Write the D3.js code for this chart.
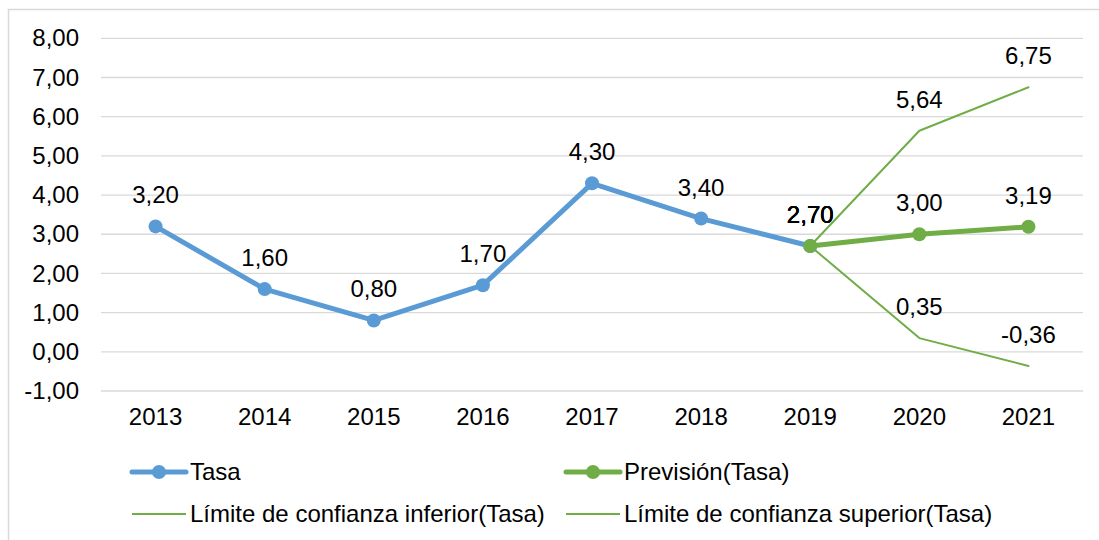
<!DOCTYPE html>
<html>
<head>
<meta charset="utf-8">
<script src="https://cdn.jsdelivr.net/npm/d3@7"></script>
<style>
    body{ margin:0; background:#fff; }
    svg text{ font-family:'Liberation Sans', Arial, sans-serif; fill:#000; }
</style>
</head>
<body>
<div id="chart"></div>
<script>
var years = ['2013','2014','2015','2016','2017','2018','2019','2020','2021'];
var tasa = [3.20, 1.60, 0.80, 1.70, 4.30, 3.40, 2.70, null, null];
var prevision = [null, null, null, null, null, null, 2.70, 3.00, 3.19];
var limInferior = [null, null, null, null, null, null, 2.70, 0.35, -0.36];
var limSuperior = [null, null, null, null, null, null, 2.70, 5.64, 6.75];
var yTicks = [-1, 0, 1, 2, 3, 4, 5, 6, 7, 8];

var width = 1099, height = 540;
var fontSize = 24;
var blue = '#5B9BD5', green = '#70AD47', grid = '#D9D9D9';

var svg = d3.select('#chart').append('svg')
    .attr('width', width)
    .attr('height', height);

// chart frame (only top and left edge visible)
svg.append('path')
    .attr('d', 'M8.5,' + height + 'V9.5H' + width)
    .attr('fill', 'none')
    .attr('stroke', grid)
    .attr('stroke-width', 1.5);

var x = d3.scaleBand().domain(years).range([101, 1083]);
var y = d3.scaleLinear().domain([-1, 8]).range([391, 38.3]);
var cx = function(d){ return x(d) + x.bandwidth() / 2; };
var fmt = function(v){ return v.toFixed(2).replace('.', ','); };

// gridlines
svg.append('g').selectAll('line')
    .data(yTicks).enter()
    .append('line')
    .attr('x1', 101).attr('x2', 1083)
    .attr('y1', function(d){ return y(d); })
    .attr('y2', function(d){ return y(d); })
    .attr('stroke', grid)
    .attr('stroke-width', 1.3);

// y axis labels
var yAxis = d3.axisLeft(y).tickValues(yTicks).tickFormat(fmt).tickSize(0).tickPadding(0);
var gy = svg.append('g')
    .attr('transform', 'translate(79,0)')
    .call(yAxis);
gy.select('.domain').remove();
gy.selectAll('text').style('font-size', fontSize + 'px').attr('fill', '#000');

// x axis labels
var xAxis = d3.axisBottom(x).tickSize(0).tickPadding(0);
var gx = svg.append('g')
    .attr('transform', 'translate(0,408)')
    .call(xAxis);
gx.select('.domain').remove();
gx.selectAll('text').style('font-size', fontSize + 'px').attr('fill', '#000').attr('dy', '0.7em');

var series = [
    {name:'Tasa', values:tasa, color:blue, width:5, marker:true},
    {name:'Previsión(Tasa)', values:prevision, color:green, width:5, marker:true},
    {name:'Límite de confianza inferior(Tasa)', values:limInferior, color:green, width:2, marker:false},
    {name:'Límite de confianza superior(Tasa)', values:limSuperior, color:green, width:2, marker:false}
];

var line = d3.line()
    .defined(function(d){ return d.v != null; })
    .x(function(d){ return cx(d.k); })
    .y(function(d){ return y(d.v); });

series.forEach(function(s){
    var pts = years.map(function(k, i){ return {k:k, v:s.values[i]}; });
    var g = svg.append('g');
    g.append('path')
        .datum(pts)
        .attr('d', line)
        .attr('fill', 'none')
        .attr('stroke', s.color)
        .attr('stroke-width', s.width)
        .attr('stroke-linejoin', 'round')
        .attr('stroke-linecap', 'round');
    if (s.marker){
        g.selectAll('circle')
            .data(pts.filter(function(d){ return d.v != null; }))
            .enter().append('circle')
            .attr('cx', function(d){ return cx(d.k); })
            .attr('cy', function(d){ return y(d.v); })
            .attr('r', 7)
            .attr('fill', s.color);
    }
    s.pts = pts;
});

// data labels
series.forEach(function(s){
    svg.append('g').selectAll('text')
        .data(s.pts.filter(function(d){ return d.v != null; }))
        .enter().append('text')
        .attr('x', function(d){ return cx(d.k); })
        .attr('y', function(d){ return y(d.v) - 23; })
        .attr('text-anchor', 'middle')
        .style('font-size', fontSize + 'px')
        .text(function(d){ return fmt(d.v); });
});

// legend
var legendPos = [[132, 472], [566, 472], [132, 514], [566, 514]];
series.forEach(function(s, i){
    var p = legendPos[i];
    var g = svg.append('g').attr('transform', 'translate(' + p + ')');
    g.append('line')
        .attr('x1', 0).attr('x2', 54)
        .attr('stroke', s.color)
        .attr('stroke-width', s.width)
        .attr('stroke-linecap', s.marker ? 'round' : 'butt');
    if (s.marker){
        g.append('circle').attr('cx', 27).attr('r', 7).attr('fill', s.color);
    }
    g.append('text')
        .attr('x', 58)
        .attr('y', 8)
        .style('font-size', fontSize + 'px')
        .text(s.name);
});
</script>
</body>
</html>
